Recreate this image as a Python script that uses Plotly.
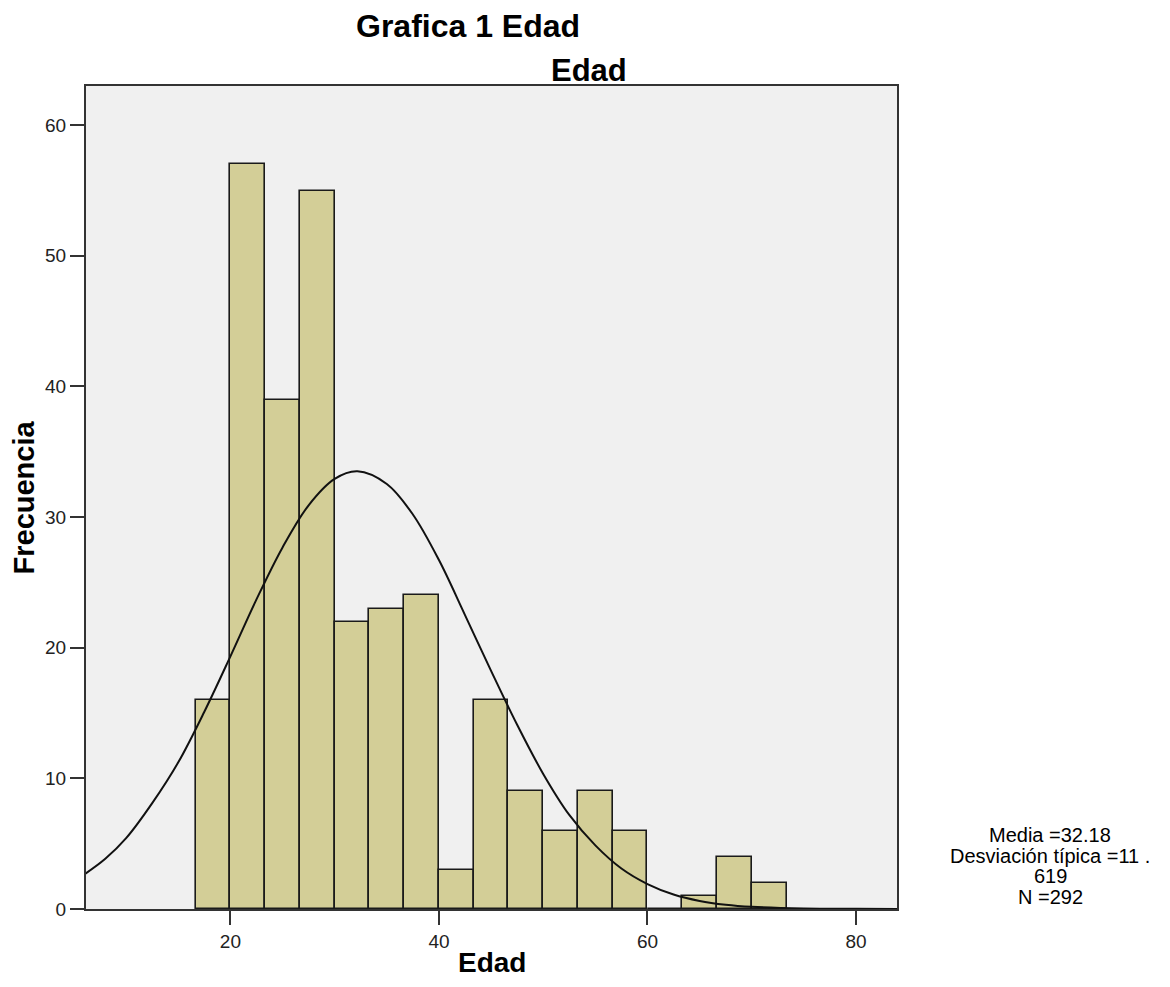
import plotly.graph_objects as go

# ---- data ----
bin_centers = [18.33, 21.67, 25.0, 28.33, 31.67, 35.0, 38.33, 41.67, 45.0,
               48.33, 51.67, 55.0, 58.33, 61.67, 65.0, 68.33, 71.67]
bin_width = 10 / 3
counts = [16, 57, 39, 55, 22, 23, 24, 3, 16, 9, 6, 9, 6, 0, 1, 4, 2]

curve_x = [6, 8, 10, 12.5, 15, 17.5, 20, 22.5, 25, 27.5, 30, 32.18, 35, 37.5,
           40, 42.5, 45, 47.5, 50, 52.5, 55, 57.5, 60, 62.5, 65, 67.5, 70, 75, 80, 84]
curve_y = [2.65, 3.84, 5.42, 8.1, 11.23, 15.1, 19.34, 23.7, 27.68, 30.9, 32.92, 33.5,
           32.53, 30.2, 26.71, 22.5, 18.23, 14.1, 10.34, 7.2, 4.87, 3.1, 1.91,
           1.11, 0.62, 0.33, 0.17, 0.04, 0.01, 0.0]

x_ticks = [20, 40, 60, 80]
y_ticks = [0, 10, 20, 30, 40, 50, 60]

stats_lines = ["Media =32.18", "Desviación típica =11 .", "619", "N =292"]

FONT = "Liberation Sans, Arial, sans-serif"

fig = go.Figure()
fig.add_trace(go.Bar(
    x=bin_centers, y=counts, width=bin_width,
    marker=dict(color="#d3ce97", line=dict(color="#1a1a1a", width=1.6)),
    showlegend=False, hoverinfo="skip",
))
fig.add_trace(go.Scatter(
    x=curve_x, y=curve_y, mode="lines", line=dict(color="#111111", width=2, shape="spline"),
    showlegend=False, hoverinfo="skip",
))

# page has an 8px body margin; work in page pixels and shift
OFF = 8
W, H = 1170 - 2 * OFF, 987 - 2 * OFF
PL, PR, PT, PB = 86, 897, 86, 909  # plot area in page pixels
L, T = PL - OFF, PT - OFF
R = W - (PR - OFF)
B = H - (PB - OFF)
pw, ph = PR - PL, PB - PT


def px_x(p):
    return (p - PL) / pw


def px_y(p):
    return (PB - p) / ph


annotations = [
    dict(text="<b>Grafica 1 Edad</b>", x=px_x(468), y=px_y(26), font=dict(size=32)),
    dict(text="<b>Edad</b>", x=px_x(589), y=px_y(70), font=dict(size=31)),
    dict(text="<b>Edad</b>", x=0.5, y=px_y(H + OFF - 0.5), yanchor="bottom", borderpad=0,
         font=dict(size=28)),
    dict(text="<b>Frecuencia</b>", x=px_x(23), y=0.5, textangle=-90, font=dict(size=29)),
]
line_pos = [835, 855.5, 876, 896.5]
for t, yp in zip(stats_lines, line_pos):
    annotations.append(dict(text=t, x=px_x(1050), y=px_y(yp), font=dict(size=20), borderpad=0))

for a in annotations:
    a.setdefault("yanchor", "middle")
    a.update(xref="paper", yref="paper", showarrow=False, xanchor="center")
    a["font"].update(family=FONT, color="#000000")

fig.update_layout(
    width=W, height=H,
    margin=dict(l=L, r=R, t=T, b=B, pad=0),
    paper_bgcolor="white", plot_bgcolor="#f0f0f0",
    font=dict(family=FONT, size=19, color="#222222"),
    bargap=0, annotations=annotations,
)
fig.update_xaxes(
    range=[6.15, 83.93], tickvals=x_ticks, ticks="outside", ticklen=14, tickwidth=2,
    tickcolor="#333333", showline=True, linecolor="#333333", linewidth=2, mirror=True,
    showgrid=False, zeroline=False, tickfont=dict(size=19, color="#222222"),
)
fig.update_yaxes(
    range=[0, 63], tickvals=y_ticks, ticks="outside", ticklen=14, tickwidth=2,
    tickcolor="#333333", showline=True, linecolor="#333333", linewidth=2, mirror=True,
    showgrid=False, zeroline=False, tickfont=dict(size=19, color="#222222"),
)

fig.write_html("out.html")
